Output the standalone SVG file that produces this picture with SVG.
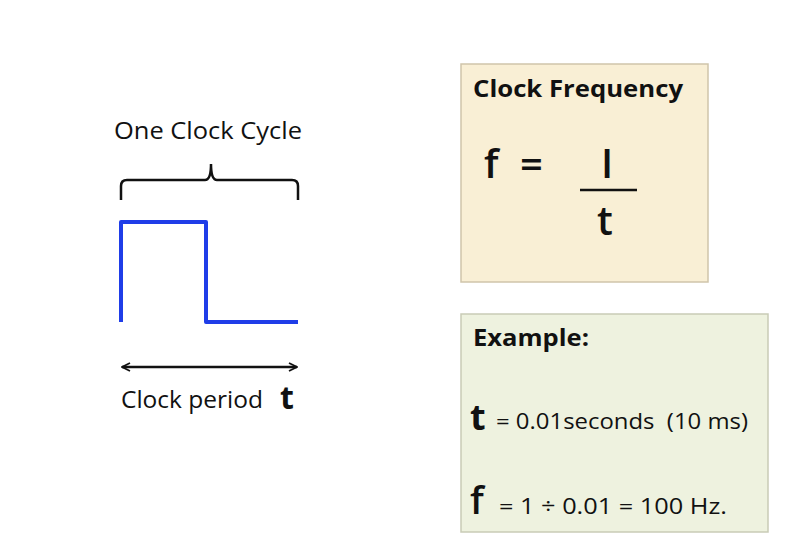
<svg xmlns="http://www.w3.org/2000/svg" width="804" height="538" viewBox="0 0 804 538">
<defs>
<style>
text{font-family:"Open Sans","Liberation Sans",sans-serif;fill:#111}
.bold{font-weight:bold}
.frm{font-size:40px;font-weight:600}
.wave{fill:none;stroke:#1f3de8;stroke-width:4;stroke-linejoin:round}
.blk{fill:none;stroke:#111;stroke-width:2.5}
</style>
<marker id="ah" viewBox="0 0 10 10" refX="9" refY="5" markerWidth="10" markerHeight="10" markerUnits="userSpaceOnUse" orient="auto-start-reverse">
<path d="M1,1 L9,5 L1,9" fill="none" stroke="#111" stroke-width="1.8"/>
</marker>
</defs>
<rect width="804" height="538" fill="#fff"/>
<g id="clock-diagram">
<text x="114" y="139" style="font-size:24px" textLength="188" lengthAdjust="spacingAndGlyphs">One Clock Cycle</text>
<path class="blk" d="M121,200 L121,186 Q121,180 127,180 L205,180 Q211,180 211,164 Q211,180 217,180 L292,180 Q298,180 298,186 L298,200"/>
<path class="wave" d="M121,322 L121,222 L206,222 L206,322 L298,322"/>
<line class="blk" x1="122" y1="367" x2="297" y2="367" marker-start="url(#ah)" marker-end="url(#ah)"/>
<text x="121" y="408" style="font-size:23px" textLength="142" lengthAdjust="spacingAndGlyphs">Clock period</text>
<text x="280" y="409" style="font-size:32px;font-weight:bold">t</text>
</g>
<g id="frequency-box">
<rect x="461" y="64" width="247" height="218" fill="#f9efd5" stroke="#cfc5aa" stroke-width="1.5"/>
<text class="bold" x="473" y="97" style="font-size:23px" textLength="210" lengthAdjust="spacingAndGlyphs">Clock Frequency</text>
<text class="frm" x="484" y="178">f</text>
<text class="frm" x="520" y="178">=</text>
<text class="frm" x="607" y="178" text-anchor="middle">I</text>
<line x1="580" y1="190" x2="637" y2="190" stroke="#111" stroke-width="2.5"/>
<text class="frm" x="605" y="235" text-anchor="middle">t</text>
</g>
<g id="example-box">
<rect x="461" y="314" width="307" height="218" fill="#eef2df" stroke="#c9cbb6" stroke-width="1.5"/>
<text class="bold" x="473" y="346" style="font-size:23px" textLength="116" lengthAdjust="spacingAndGlyphs">Example:</text>
<text x="470" y="430" style="font-size:36px;font-weight:bold">t</text>
<text x="496" y="429" style="font-size:22px" xml:space="preserve" textLength="252" lengthAdjust="spacingAndGlyphs">= 0.01seconds  (10 ms)</text>
<text x="470" y="514" style="font-size:38px;font-weight:600">f</text>
<text x="499" y="514" style="font-size:22px" textLength="228" lengthAdjust="spacingAndGlyphs">= 1 ÷ 0.01 = 100 Hz.</text>
</g>
</svg>
